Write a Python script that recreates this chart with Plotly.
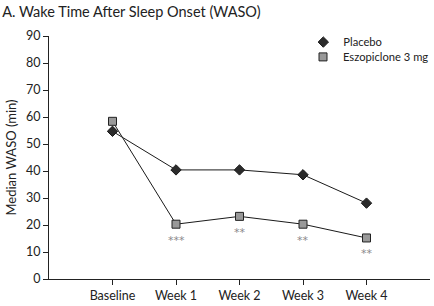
import plotly.graph_objects as go

categories = ["Baseline", "Week 1", "Week 2", "Week 3", "Week 4"]
placebo = [54.7, 40.4, 40.4, 38.6, 28.1]
eszopiclone = [58.4, 20.3, 23.2, 20.3, 15.2]
sig_labels = ["", "***", "**", "**", "**"]
y_ticks = [0, 10, 20, 30, 40, 50, 60, 70, 80, 90]

FONT = "Lato"
x_idx = list(range(len(categories)))

fig = go.Figure()
fig.add_trace(go.Scatter(
    x=x_idx, y=eszopiclone, mode="lines+markers", showlegend=False,
    line=dict(color="#1a1a1a", width=1),
    marker=dict(symbol="square", size=8, color="#999999", line=dict(color="#222222", width=1)),
))
fig.add_trace(go.Scatter(
    x=x_idx, y=placebo, mode="lines+markers", showlegend=False,
    line=dict(color="#1a1a1a", width=1),
    marker=dict(symbol="diamond", size=8, color="#2b2b2b", line=dict(color="#1a1a1a", width=1)),
))
# legend entries (markers only), one legend per row for tight spacing
fig.add_trace(go.Scatter(
    x=[None], y=[None], mode="markers", name="Placebo", legend="legend",
    marker=dict(symbol="diamond", size=8, color="#2b2b2b", line=dict(color="#1a1a1a", width=1)),
))
fig.add_trace(go.Scatter(
    x=[None], y=[None], mode="markers", name="Eszopiclone 3 mg", legend="legend2",
    marker=dict(symbol="square", size=8, color="#999999", line=dict(color="#222222", width=1)),
))

for i, (v, s) in enumerate(zip(eszopiclone, sig_labels)):
    if s:
        fig.add_annotation(x=i, y=v, text=s, showarrow=False, yshift=-16,
                           font=dict(family="DejaVu Sans", size=11, color="#8a8a8a"))

legend_common = dict(xanchor="left", yanchor="middle", bgcolor="rgba(0,0,0,0)",
                     font=dict(family=FONT, size=11.2), itemwidth=30)
fig.update_layout(
    width=434, height=306,
    margin=dict(l=49, r=0, t=36, b=27),
    plot_bgcolor="white", paper_bgcolor="white",
    font=dict(family=FONT, size=12, color="#222222"),
    title=dict(text="A. Wake Time After Sleep Onset (WASO)", x=0.005, xanchor="left",
               y=0.96, yanchor="middle", font=dict(family=FONT, size=14.5, color="#222222")),
    legend=dict(x=0.6675, y=0.975, **legend_common),
    legend2=dict(x=0.6675, y=0.914, **legend_common),
    showlegend=True,
)
fig.update_xaxes(
    range=[-1, 5], tickmode="array", tickvals=x_idx, ticktext=categories,
    showgrid=False, zeroline=False, showline=True, linecolor="#222222", linewidth=1,
    ticks="outside", ticklen=5, tickcolor="#222222", tickfont=dict(size=12.5),
)
fig.update_yaxes(
    range=[0, 90], tickmode="array", tickvals=y_ticks,
    showgrid=False, zeroline=False, showline=True, linecolor="#222222", linewidth=1,
    ticks="outside", ticklen=5, tickcolor="#222222", tickfont=dict(size=12.5),
    title=dict(text="Median WASO (min)", font=dict(size=13), standoff=6),
)
fig.write_html("out.html", config={"displayModeBar": False},
               post_script="document.body.style.margin='0';document.body.style.overflow='hidden';")
